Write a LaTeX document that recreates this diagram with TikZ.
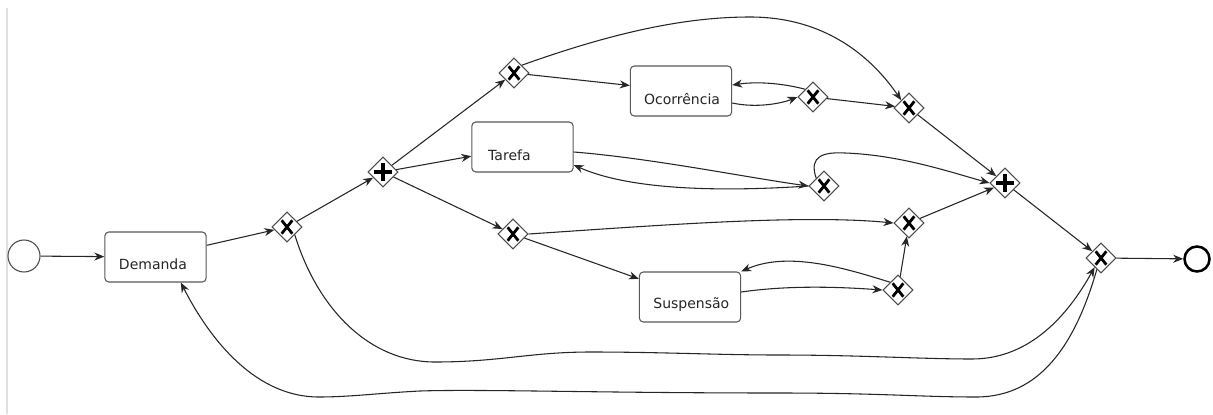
\documentclass[tikz,border=0pt]{standalone}
\usepackage{fontspec}
\setmainfont{DejaVu Sans}
\usetikzlibrary{shapes.geometric,arrows.meta}
\begin{document}
\begin{tikzpicture}[x=0.75pt,y=-0.75pt,
  flow/.style={draw=black!85, line width=0.8pt,
    -{Stealth[length=7.5pt,width=6pt,inset=2.4pt]}},
  task/.style={draw=black!65, line width=0.8pt, rounded corners=3pt,
    fill=white, minimum width=76pt, minimum height=37.5pt, inner sep=0pt},
  tasktext/.style={font=\fontsize{10.5}{12}\selectfont, text=black!85, inner sep=0pt},
  gate/.style={diamond, draw=black!70, line width=0.8pt, fill=white,
    minimum size=22.5pt, inner sep=0pt},
  xorgate/.style={gate, path picture={
    \draw[line width=2.1pt,black]
      ([shift={(-4pt,-5pt)}]path picture bounding box.center) --
      ([shift={(4pt,5pt)}]path picture bounding box.center);
    \draw[line width=2.1pt,black]
      ([shift={(-4pt,5pt)}]path picture bounding box.center) --
      ([shift={(4pt,-5pt)}]path picture bounding box.center);}},
  pargate/.style={gate, path picture={
    \draw[line width=2.8pt,black]
      ([xshift=-7pt]path picture bounding box.center) --
      ([xshift=7pt]path picture bounding box.center);
    \draw[line width=2.8pt,black]
      ([yshift=-6.8pt]path picture bounding box.center) --
      ([yshift=6.8pt]path picture bounding box.center);}},
  startev/.style={circle, draw=black!70, line width=0.8pt, fill=white,
    minimum size=24pt, inner sep=0pt},
  endev/.style={circle, draw=black, line width=1.9pt, fill=white,
    minimum size=18.75pt, inner sep=0pt}]

\fill[white] (0,0) rectangle (1213,414);
\useasboundingbox (0,0) rectangle (1213,414);
\draw[black!12, line width=1pt] (7,8) -- (7,414);

% events
\node[startev] (st) at (24,256) {};
\node[endev] (en) at (1197,259) {};

% tasks
\node[task] (dem) at (155.5,257) {};
\node[tasktext] (dem-t) at ([shift={(-1.9pt,-5.3pt)}]dem.center) {Demanda};
\node[task] (ta) at (522.5,147) {};
\node[tasktext] (ta-t) at ([shift={(-9.8pt,-6pt)}]ta.center) {Tarefa};
\node[task] (oc) at (681,91) {};
\node[tasktext] (oc-t) at ([shift={(0.8pt,-6pt)}]oc.center) {Ocorrência};
\node[task] (su) at (690,297) {};
\node[tasktext] (su-t) at ([shift={(1pt,-6pt)}]su.center) {Suspensão};

% gateways
\node[xorgate] (x1) at (287,227) {};
\node[pargate] (pa) at (383,172) {};
\node[xorgate] (x2) at (514,73) {};
\node[xorgate] (x3) at (513,234) {};
\node[xorgate] (ol) at (813,97) {};
\node[xorgate] (tl) at (824,186) {};
\node[xorgate] (sl) at (898,290) {};
\node[xorgate] (mt) at (909,108) {};
\node[xorgate] (mm) at (909,223) {};
\node[pargate] (pj) at (1005,183) {};
\node[xorgate] (fx) at (1101,258) {};

% straight flows
\draw[flow] (st) -- (dem);
\draw[flow] (dem) -- (x1);
\draw[flow] (x1) -- (pa);
\draw[flow] (pa) -- (x2);
\draw[flow] (pa) -- (ta);
\draw[flow] (pa) -- (x3);
\draw[flow] (x2) -- (oc);
\draw[flow] (ol) -- (mt);
\draw[flow] (mt) -- (pj);
\draw[flow] (mm) -- (pj);
\draw[flow] (x3) -- (su);
\draw[flow] (sl) -- (mm);
\draw[flow] (pj) -- (fx);
\draw[flow] (fx) -- (en);

% bypass over Ocorrência
\draw[flow] (x2.north east) .. controls (620,30) and (690,17) .. (750,17)
  .. controls (830,17) and (875,62) .. (mt.north west);

% Ocorrência loop
\draw[flow] ([yshift=-9pt]oc.east) .. controls (755,108) and (780,104) .. (ol.west);
\draw[flow] (ol.north west) .. controls (785,84) and (760,81) .. ([yshift=4.5pt]oc.east);

% Tarefa loop
\draw[flow] ([yshift=-3.75pt]ta.east) .. controls (650,158) and (750,178) .. (tl.west);
\draw[flow] (tl.west) .. controls (720,192) and (630,190) .. ([yshift=-13.5pt]ta.east);
\draw[flow] (tl.north west) .. controls (808,155) and (825,152) .. (845,153)
  .. controls (900,155) and (950,172) .. (pj.west);

% Suspensão branch
\draw[flow] (x3.east) .. controls (650,226) and (800,214) .. (mm.west);
\draw[flow] ([yshift=3.75pt]su.east) .. controls (790,285) and (840,287) .. (sl.west);
\draw[flow] (sl.north west) .. controls (850,270) and (790,250) .. (su.north east);

% long skip to the final gateway
\draw[flow] (x1.south east) .. controls (318,310) and (370,362) .. (435,362)
  .. controls (500,362) and (530,352) .. (591,352)
  .. controls (660,352) and (720,355) .. (778,355)
  .. controls (860,355) and (920,359) .. (972,359)
  .. controls (1030,359) and (1068,315) .. (fx.-125);

% return to Demanda
\draw[flow] (fx.-110) .. controls (1075,345) and (1040,397) .. (976,397)
  .. controls (920,397) and (880,393) .. (778,393)
  .. controls (600,393) and (480,389) .. (420,391)
  .. controls (380,393) and (350,397) .. (319,397)
  .. controls (250,397) and (205,330) .. ([xshift=19pt]dem.south);

\end{tikzpicture}
\end{document}
